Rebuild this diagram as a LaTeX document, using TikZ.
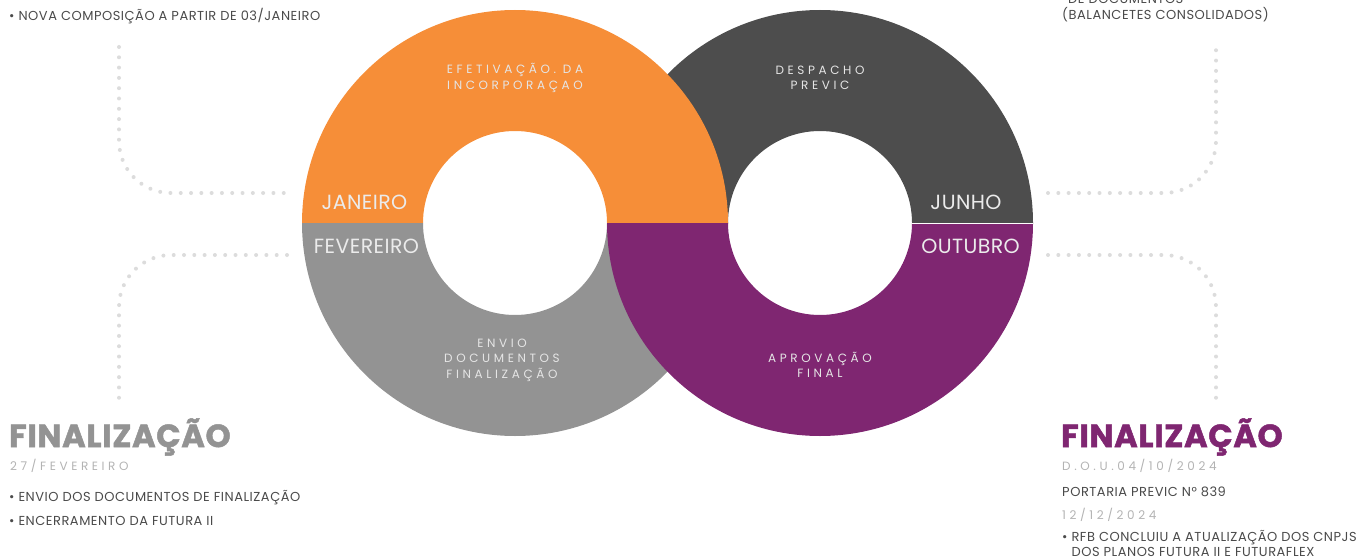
\documentclass[tikz,border=0pt]{standalone}
\usepackage{fontspec}
\setmainfont{Poppins}[LetterSpace=4]
\newfontfamily\spacedfont[LetterSpace=30]{Poppins}
\newfontfamily\monthfont[LetterSpace=2]{Poppins}
\newfontfamily\headfont[LetterSpace=2, BoldFeatures={FakeBold=1.5}]{Poppins}
\usetikzlibrary{positioning}
\definecolor{ringorange}{HTML}{F68E38}
\definecolor{ringdark}{HTML}{4D4D4D}
\definecolor{ringgray}{HTML}{939393}
\definecolor{ringpurple}{HTML}{7F2671}
\definecolor{dotgray}{HTML}{DCDCDC}
\definecolor{bodygray}{HTML}{4A4A4A}
\definecolor{dategray}{HTML}{B3B3B3}
\tikzset{dotline/.style = {draw = dotgray, line width = 4pt, line cap = round, dash pattern = on 0pt off 10.3pt, rounded corners = 52pt}}
\tikzset{monthlabel/.style = {text = white!92!black, inner sep = 0, font = \monthfont\fontsize{20.5}{20.5}\selectfont}}
\tikzset{steplabel/.style = {text = white!90!black, inner sep = 0, align = center, font = \spacedfont\fontsize{12}{15.5}\selectfont}}
\tikzset{bodytext/.style = {anchor = west, text = bodygray, inner sep = 0, align = left, font = \fontsize{13}{15}\selectfont}}
\tikzset{datetext/.style = {anchor = west, text = dategray, inner sep = 0, font = \spacedfont\fontsize{12}{12}\selectfont}}
\tikzset{headtext/.style = {anchor = west, inner sep = 0, font = \headfont\bfseries\fontsize{32}{32}\selectfont}}

\begin{document}
\begin{tikzpicture}[x = 1pt, y = 1pt]
    \useasboundingbox (0, 0) rectangle (1356, -559);

    \coordinate (lc) at (515, -223);
    \coordinate (rc) at (820, -223);

    % upper halves
    \fill [ringdark] ([xshift = 213pt] rc) arc [start angle = 0, end angle = 180, radius = 213pt] -- ([xshift = -92pt] rc) arc [start angle = 180, end angle = 0, radius = 92pt] -- cycle;
    \fill [ringorange] ([xshift = 213pt] lc) arc [start angle = 0, end angle = 180, radius = 213pt] -- ([xshift = -92pt] lc) arc [start angle = 180, end angle = 0, radius = 92pt] -- cycle;
    % lower halves
    \fill [ringgray] ([xshift = -213pt] lc) arc [start angle = 180, end angle = 360, radius = 213pt] -- ([xshift = 92pt] lc) arc [start angle = 0, end angle = -180, radius = 92pt] -- cycle;
    \fill [ringpurple] ([xshift = -213pt] rc) arc [start angle = 180, end angle = 360, radius = 213pt] -- ([xshift = 92pt] rc) arc [start angle = 0, end angle = -180, radius = 92pt] -- cycle;
    \draw [white, line width = 1pt] ([xshift = 92pt] rc) -- ([xshift = 213pt] rc);

    \node [monthlabel] (jan) at (364.5, -202) {JANEIRO};
    \node [monthlabel] (jun) at (966, -202) {JUNHO};
    \node [monthlabel] (fev) at (366.5, -246) {FEVEREIRO};
    \node [monthlabel] (out) at (970.5, -246) {OUTUBRO};

    \node [steplabel] (efet) at (515, -78) {EFETIVAÇÃO. DA\\INCORPORAÇAO};
    \node [steplabel] (desp) at (820, -78) {DESPACHO\\PREVIC};
    \node [steplabel] (envio) at (502, -360) {ENVIO\\DOCUMENTOS\\FINALIZAÇÃO};
    \node [steplabel] (aprov) at (820, -365) {APROVAÇÃO\\FINAL};

    % dotted leaders
    \coordinate (ltop) at (119, -47);
    \coordinate (ltend) at (287, -193);
    \coordinate (lbot) at (119, -401);
    \coordinate (lbend) at (287, -255);
    \coordinate (rtop) at (1216, -47);
    \coordinate (rtend) at (1048, -193);
    \coordinate (rbot) at (1216, -401);
    \coordinate (rbend) at (1048, -255);
    \draw [dotline] (ltop) |- (ltend);
    \draw [dotline] (lbend) -| (lbot);
    \draw [dotline] (rtend) -| (rtop);
    \draw [dotline] (rbend) -| (rbot);

    % left texts
    \node [bodytext] (novacomp) at (9, -16) {• NOVA COMPOSIÇÃO A PARTIR DE 03/JANEIRO};
    \node [headtext, text = ringgray] (finleft) at (9, -437) {FINALIZAÇÃO};
    \node [datetext] (fevdate) at (10, -466) {27/FEVEREIRO};
    \node [bodytext] (envdocs) at (9, -498) {• ENVIO DOS DOCUMENTOS DE FINALIZAÇÃO};
    \node [bodytext] (encerr) at (9, -521) {• ENCERRAMENTO DA FUTURA II};

    % right texts
    \node [bodytext] (dedocs) at (1068, 1) {DE DOCUMENTOS};
    \node [bodytext] (balanc) at (1062, -15) {(BALANCETES CONSOLIDADOS)};
    \node [headtext, text = ringpurple] (finright) at (1061, -437) {FINALIZAÇÃO};
    \node [datetext] (doudate) at (1062, -466) {D.O.U.04/10/2024};
    \node [bodytext] (portaria) at (1062, -492) {PORTARIA PREVIC N° 839};
    \node [datetext] (dezdate) at (1062, -515) {12/12/2024};
    \node [bodytext] (rfb) at (1062, -543.5) {• RFB CONCLUIU A ATUALIZAÇÃO DOS CNPJS\\\hphantom{• }DOS PLANOS FUTURA II E FUTURAFLEX};
  \end{tikzpicture}
\end{document}
